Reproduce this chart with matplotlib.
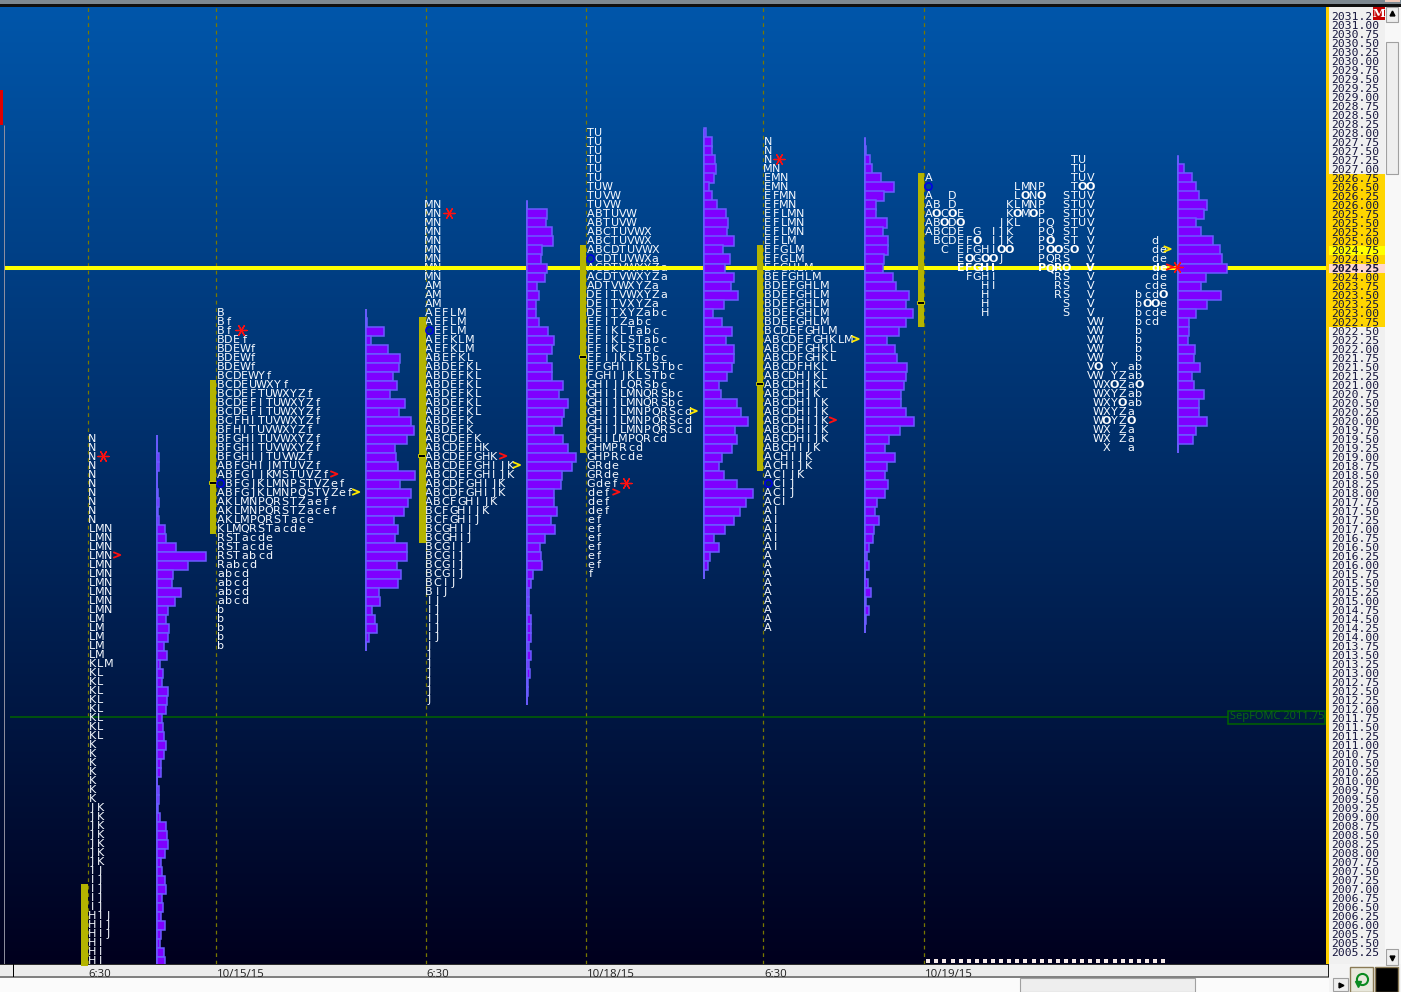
import numpy as np
import matplotlib
matplotlib.use("Agg")
import matplotlib.pyplot as plt
from matplotlib.patches import Rectangle
from matplotlib.path import Path

# ---------------- DATA ----------------
TICK_PRICES = [2031.25 - 0.25 * i for i in range(105)]
VALUE_AREA_PRICES = [2026.75, 2026.5, 2026.25, 2026.0, 2025.75, 2025.5, 2025.25, 2025.0, 2024.75,
                     2024.5, 2024.25, 2024.0, 2023.75, 2023.5, 2023.25, 2023.0, 2022.75]
LAST_PRICE = 2024.25
VPOC_PRICE = 2024.75
REF_PRICE = 2011.75
REF_LABEL = "SepFOMC 2011.75"
X_LABELS = ["6:30", "10/15/15", "6:30", "10/18/15", "6:30", "10/19/15"]

# '@' marks the blue open ring, 'O' a bold close mark.
S1_TOP = 2019.5
S1_ROWS = ["N"] * 10 + ["LMN"] * 10 + ["LM"] * 5 + ["KLM"] + ["KL"] * 8 + ["K"] * 7 + \
          ["JK"] * 7 + ["IJ"] * 5 + ["HIJ"] * 3 + ["HI"] * 3
S1_HIST = [0, 0, 2, 2, 0, 0, 1, 2, 1, 2, 8, 9, 19, 49, 31, 16, 15, 24, 18, 11, 9, 12, 11, 7, 10, 3, 6, 5, 11,
           10, 9, 5, 6, 7, 9, 7, 4, 4, 0, 2, 2, 1, 3, 9, 10, 11, 8, 4, 5, 8, 9, 5, 6, 4, 8, 4, 3, 7, 8]

S2_TOP = 2023.0
S2_ROWS = ["B", "Bf", "Bf", "BDEf", "BDEWf", "BDEWf", "BDEWf", "BCDEWYf", "BCDEUWXYf", "BCDEFTUWXYZf",
           "BCDEFITUWXYZf", "BCDEFITUWXYZf", "BCFHITUVWXYZf", "BFHITUVWXYZf", "BFGHITUVWXYZf",
           "BFGHITUVWXYZf", "BFGHIJTUVWZf", "ABFGHIJMTUVZf", "ABFGIJKMSTUVZf", "@BFGJKLMNPSTVZef",
           "ABFGJKLMNPQSTVZef", "AKLMNPQRSTZaef", "AKLMNPQRSTZacef", "AKLMPQRSTace", "KLMQRSTacde",
           "RSTacde", "RSTacde", "RSTabcd", "Rabcd", "abcd", "abcd", "abcd", "abcd", "b", "b", "b", "b", "b"]
S2_HIST = [0, 1, 18, 5, 22, 34, 33, 27, 31, 24, 39, 33, 45, 48, 41, 29, 30, 32, 49, 34, 45, 42, 38, 28, 32,
           29, 41, 41, 31, 35, 32, 13, 14, 6, 9, 11, 3, 0]

S3_TOP = 2026.0
S3_ROWS = ["MN"] * 9 + ["AM"] * 3 + ["AEFLM"] * 2 + ["@EFLM"] + ["AEFKLM"] * 2 + ["ABEFKL"] + ["ABDEFKL"] * 6 + \
          ["ABDEFK"] * 2 + ["ABCDEFK", "ABCDEFHK", "ABCDEFGHK", "ABCDEFGHIJK", "ABCDEFGHIJK", "ABCDFGHIJK",
                            "ABCDFGHIJK", "ABCFGHIJK", "BCFGHIJK", "BCFGHIJ", "BCGHIJ", "BCGHIJ"] + \
          ["BCGIJ"] * 4 + ["BCIJ", "BIJ"] + ["IJ"] * 5 + ["J"] * 7
S3_HIST = [0, 20, 19, 25, 26, 15, 14, 20, 18, 10, 12, 9, 9, 12, 21, 27, 25, 20, 25, 25, 36, 32, 41, 37, 35,
           27, 36, 41, 49, 45, 35, 34, 27, 27, 30, 24, 28, 18, 13, 14, 15, 6, 4, 2, 2, 2, 4, 4, 4, 2, 4, 2, 3,
           1, 1, 0]

S4_TOP = 2028.0
S4_ROWS = ["TU"] * 6 + ["TUW", "TUVW", "TUVW", "ABTUVW", "ABTUVW", "ABCTUVWX", "ABCTUVWX", "ABCDTUVWX",
                        "@CDTUVWXa", "ACDTVWXYZa", "ACDTVWXYZa", "ADTVWXYZa", "DEITVWXYZa", "DEITVXYZa",
                        "DEITXYZabc", "EFITZabc", "EFIKLTabc", "EFIKLSTabc", "EFIKLSTbc", "EFIJKLSTbc",
                        "EFGHIJKLSTbc", "FGHIJKLSTbc", "GHIJLQRSbc", "GHIJLMNQRSbc", "GHIJLMNQRSbc",
                        "GHIJLMNPQRScd", "GHIJLMNPQRScd", "GHIJLMNPQRScd", "GHILMPQRcd", "GHMPRcd", "GHPRcde",
                        "GRde", "GRde", "Gdef", "def", "def", "def"] + ["ef"] * 6 + ["f"]
S4_HIST = [2, 8, 8, 11, 12, 10, 5, 8, 13, 22, 24, 23, 30, 19, 26, 21, 30, 27, 34, 20, 9, 18, 28, 22, 30, 30,
           28, 23, 15, 17, 33, 37, 44, 31, 33, 28, 18, 15, 20, 33, 49, 42, 36, 30, 21, 10, 15, 6, 4, 0]

S5_TOP = 2027.75
S5_ROWS = ["N"] * 3 + ["MN", "EMN", "EMN", "EFMN", "EFMN", "EFLMN", "EFLMN", "EFLMN", "EFLM", "EFGLM", "EFGLM",
                       "EFGHLM", "BEFGHLM"] + ["BDEFGHLM"] * 5 + \
          ["BCDEFGHLM", "ABCDEFGHKLM", "ABCDFGHKL", "ABCDFGHKL", "ABCDFHKL", "ABCDHJKL", "ABCDHJKL", "ABCDHJK"] + \
          ["ABCDHIJK"] * 5 + ["ABCHIJK", "ACHIJK", "ACHIJK", "ACIJK", "@CIJ", "ACIJ", "ACI"] + ["AI"] * 5 + ["A"] * 9
S5_HIST = [0, 1, 5, 7, 16, 29, 19, 11, 11, 22, 18, 23, 23, 19, 18, 28, 31, 44, 41, 48, 41, 34, 22, 30, 32, 42,
           41, 39, 36, 36, 41, 49, 35, 24, 20, 30, 22, 20, 23, 20, 12, 10, 14, 9, 8, 4, 2, 4, 0, 3, 6, 1, 4, 1, 0]

S6_TOP = 2027.25
S6_ROWS = [
    "                  TU",
    "                  TU",
    "A                 TUV",
    "@          LMNP   TOO",
    "A  D       LONO  STUV",
    "AB D      KLMNP  STUV",
    "AOCOE     KOMOP  STUV",
    "ABODO    JKL  PQ STUV",
    "ABCDE G IJK   PQ ST V",
    " BCDEFO IJK   PO ST V       d",
    "  C EFGHIOO   POOSO V       de",
    "    EOGOOJ    PQRS  V       de",
    "    EFGHI     PQRO  V       de",
    "     FGHI       RS  V       de",
    "       HI       RS  V      cde",
    "       H        RS  V     bcdO",
    "       H         S  V     bOOe",
    "       H         S  V     bcde",
    "                    VW    bcd",
    "                    VW    b",
    "                    VW    b",
    "                    VW    b",
    "                    VW    b",
    "                    VO Y ab",
    "                    VW YZab",
    "                     WXOZaO",
    "                     WXYZab",
    "                     WXYOab",
    "                     WXYZa",
    "                     WOYZO",
    "                     WX Za",
    "                     WX Za",
    "                      X  a",
]
S6_HIST = [0, 6, 14, 18, 21, 29, 26, 18, 23, 35, 42, 44, 49, 28, 23, 43, 29, 18, 11, 11, 10, 17, 16, 22, 14, 16,
           26, 21, 21, 29, 18, 15, 0]

VA_HIGH = [2007.0, 2021.0, 2022.75, 2024.75, 2024.75, 2026.75]
VA_LOW = [2005.0, 2017.0, 2016.75, 2019.25, 2018.75, 2022.75]
POC = [None, 2018.25, 2019.0, 2021.75, 2021.0, 2023.25]

# (session, price, column offset)
RED_STARS = [(0, 2019.0, 1.3), (1, 2022.5, 2.5), (2, 2025.75, 2.5), (3, 2018.25, 4.4), (4, 2027.25, 1.4),
             (5, 2024.25, 30.7)]
RED_ARROWS = [(0, 2016.25, 3.05), (1, 2018.5, 14.0), (2, 2019.0, 9.1), (3, 2018.0, 3.15), (4, 2020.0, 8.0),
              (5, 2024.25, 29.8)]
YELLOW_ARROWS = [(1, 2018.0, 16.7), (2, 2018.75, 10.8), (3, 2020.25, 12.7), (4, 2022.25, 10.8), (5, 2024.75, 29.5)]
PERIOD_COUNT = 30

# ---------------- LAYOUT / STYLE ----------------
W, H = 1401, 992
AX_L, AX_R, AX_T, AX_B = 0, 1326, 7, 964
PX_PER_PRICE = 36.0
DASH_X = [87.7, 216.3, 425.6, 586.4, 763.2, 924.3]
HIST_X = [157.0, 366.0, 527.0, 703.6, 864.6, 1178.0]
TEXT_X = [88.0, 216.4, 425.0, 586.4, 763.7, 924.2]
TICK_X = [88, 217, 426, 587, 764, 925]
PITCH = 8.1
FS = 8.0
BASE_OFF = 3.05 / PX_PER_PRICE
TXT = "#f6faff"
MONO = "DejaVu Sans Mono"
LETTER = "DejaVu Sans"
SANS = "Open Sans"
ROWS = [S1_ROWS, S2_ROWS, S3_ROWS, S4_ROWS, S5_ROWS, S6_ROWS]
TOPS = [S1_TOP, S2_TOP, S3_TOP, S4_TOP, S5_TOP, S6_TOP]
HISTS = [S1_HIST, S2_HIST, S3_HIST, S4_HIST, S5_HIST, S6_HIST]

price_of = lambda y: 2031.25 - (y - 16) / PX_PER_PRICE

fig = plt.figure(figsize=(W / 100, H / 100), dpi=100, facecolor="#fbfbfb")

# chrome in pixel coordinates
ch = fig.add_axes([0, 0, 1, 1], zorder=0)
ch.set_xlim(0, W); ch.set_ylim(H, 0); ch.axis("off")
def box(x0, y0, x1, y1, fc, ec="none", lw=0, z=1):
    ch.add_patch(Rectangle((x0, y0), x1 - x0, y1 - y0, fc=fc, ec=ec, lw=lw, zorder=z))

box(0, 0, W, 4, "#7d8890")
box(0, 4, W, 7, "#101010")
box(1385, 0, 1400, 2, "#f0c8b8")
box(0, AX_B, 1329, 977, "#ececec")
box(0, AX_B - 0.5, 1329, AX_B + 1, "#303030", z=2)
box(0, 976, 1329, 977.5, "#808080", z=2)
box(13, AX_B, 14, 977, "#000000", z=2)
box(1329, 7, 1385, 964, "#f0f0f0")
box(1326, 7, 1328.5, 964, "#ffd000", z=3)
box(1328, 964, 1329, 977, "#202020", z=2)
box(1329, 964, 1401, 992, "#f4f4f4")
for p in VALUE_AREA_PRICES:
    y = 16 + (2031.25 - p) * PX_PER_PRICE
    col = "#ffd500"
    if p == VPOC_PRICE: col = "#ffff00"
    if p == LAST_PRICE: col = "#ffd8d0"
    box(1328.5, y - 4.5, 1385, y + 4.5, col)
# right scrollbar
box(1385, 7, 1401, 964, "#f8f8f8")
box(1385.5, 7, 1398, 22, "#eeeeee", "#a0a0a0", 0.8, 2)
box(1386, 42, 1398, 174, "#eeeeee", "#a0a0a0", 0.8, 2)
box(1385.5, 949, 1398, 965, "#eeeeee", "#a0a0a0", 0.8, 2)
ch.plot([1391.5], [13], marker="^", ms=3.5, color="black", zorder=3)
ch.plot([1391.5], [958], marker="v", ms=3.5, color="black", zorder=3)
# lower scrollbar and buttons
box(1020, 978, 1195, 991.5, "#eeeeee", "#a0a0a0", 0.8, 2)
box(1333, 978, 1347.5, 990.5, "#eeeeee", "#a0a0a0", 0.8, 2)
ch.plot([1340.5], [984.5], marker=">", ms=3.5, color="black", zorder=3)
box(1350, 966.5, 1373, 991.5, "#e8e8dc", "#8a7a55", 1, 2)
box(1375, 966.5, 1398, 991.5, "#000000", "#8a7a55", 1, 2)
ch.plot([1361.5], [979], marker="o", ms=8, mfc="none", mec="#0a8a20", mew=1.5, zorder=3)
ch.plot([1358], [984], marker="v", ms=4, color="#0a8a20", zorder=4)

# main price chart
ax = fig.add_axes([AX_L / W, 1 - AX_B / H, (AX_R - AX_L) / W, (AX_B - AX_T) / H], zorder=1)
ax.set_facecolor("none")
for s in ax.spines.values():
    s.set_visible(False)

grad = np.linspace(0, 1, 256)[:, None]
top_c, bot_c = np.array([0, 86, 170]) / 255, np.array([0, 0, 30]) / 255
img = (top_c[None, None, :] * (1 - grad[..., None]) + bot_c[None, None, :] * grad[..., None])
ax.imshow(img, aspect="auto", extent=(AX_L, AX_R, price_of(AX_B), price_of(AX_T)), origin="upper", zorder=0,
          interpolation="bilinear")
ax.set_xlim(AX_L, AX_R)
ax.set_ylim(price_of(AX_B), price_of(AX_T))
ax.add_patch(Rectangle((0, price_of(125)), 2.5, price_of(90) - price_of(125), fc="#e00000", ec="none", zorder=1))
ax.vlines(3.5, price_of(AX_B), price_of(125), color="#9090a0", lw=0.7, zorder=1)

ax.vlines(DASH_X, price_of(AX_B), price_of(AX_T), colors="#787800", lw=0.9, linestyles=(0, (3, 3)), zorder=1)
ax.hlines(REF_PRICE + 1 / PX_PER_PRICE, 10, 1228, colors="#006400", lw=1.1, zorder=1.5)
ax.hlines(LAST_PRICE, 5, AX_R, colors="#ffff00", lw=2.9, zorder=3)

ax.add_patch(Rectangle((1228, price_of(723.5)), 97, price_of(710.5) - price_of(723.5), fc="#001a40", ec="#006400",
                       lw=1.1, zorder=4))
ax.text(1230, price_of(717), REF_LABEL, color="#0b6a12", family=SANS, fontsize=8.0, va="center", ha="left", zorder=5)

chevron = Path([(-0.8, 0.65), (0.8, 0), (-0.8, -0.65)], [Path.MOVETO, Path.LINETO, Path.LINETO])

for i, (rows, top, hist) in enumerate(zip(ROWS, TOPS, HISTS)):
    prices = [top - 0.25 * j for j in range(len(rows))]
    for p, row in zip(prices, rows):
        on_line = i == 5 and p == LAST_PRICE
        for col, c in enumerate(row):
            x = TEXT_X[i] + PITCH * (col + 0.5)
            if c == " ":
                continue
            if c == "@":
                ax.plot(x, p + 1 / PX_PER_PRICE, marker="o", ms=5.2, mfc="none", mec="#0000e6", mew=1.1, zorder=7)
                continue
            bold = i == 5 and (c == "O" or on_line)
            ax.text(x, p - BASE_OFF, c, family=LETTER, fontsize=FS, color="white" if bold else TXT,
                    va="baseline", ha="center", zorder=6 if i == 5 else 2, weight="bold" if bold else "normal")
    # histogram
    ax.vlines(HIST_X[i], prices[-1] - 0.125, prices[0] + 0.125, colors="#6a5cff", lw=1.3, zorder=4)
    ax.barh(prices, hist, left=HIST_X[i], height=0.25, color="#7f00ff", edgecolor="#6a5cff", linewidth=1.1, zorder=4)
    # value area
    ax.add_patch(Rectangle((DASH_X[i] - 6.4, VA_LOW[i] - 0.125), 6.4, VA_HIGH[i] - VA_LOW[i] + 0.25, fc="#b4b400",
                           ec="none", zorder=3.5, clip_on=False))
    if POC[i] is not None:
        ax.add_patch(Rectangle((DASH_X[i] - 7.5, POC[i] - 0.01), 7, 3.0 / PX_PER_PRICE, fc="#000000", ec="#c8c800",
                               lw=0.7, zorder=3.6))

x_of = lambda s, col: TEXT_X[s] + PITCH * 0.5 + PITCH * col
ax.scatter([x_of(s, c) for s, _, c in RED_STARS], [p + 1 / PX_PER_PRICE for _, p, _ in RED_STARS], marker=(6, 2, 90),
           s=62, c="#ff1010", linewidths=0.95, zorder=8)
ax.scatter([x_of(s, c) for s, _, c in RED_ARROWS], [p + 1 / PX_PER_PRICE for _, p, _ in RED_ARROWS], marker=chevron,
           s=26, facecolors="none", edgecolors="#ff1010", linewidths=1.3, zorder=8)
ax.scatter([x_of(s, c) for s, _, c in YELLOW_ARROWS], [p + 1 / PX_PER_PRICE for _, p, _ in YELLOW_ARROWS],
           marker=chevron, s=26, facecolors="none", edgecolors="#ffe800", linewidths=1.3, zorder=8)
ax.scatter([x_of(5, c) for c in range(PERIOD_COUNT)], [price_of(961)] * PERIOD_COUNT, marker="s", s=5, c="#f4e8e8",
           linewidths=0, zorder=6)

# axes ticks through the library
ax.yaxis.tick_right()
ax.set_yticks(TICK_PRICES)
ax.set_yticklabels([f"{p:.2f}" for p in TICK_PRICES], family=MONO, fontsize=8.2, color="#14143c")
ax.tick_params(axis="y", length=0, pad=4.0)
for lab, p in zip(ax.get_yticklabels(), TICK_PRICES):
    if p == LAST_PRICE:
        lab.set_fontweight("bold")
ax.set_xticks(TICK_X)
ax.set_xticklabels(X_LABELS, family=SANS, fontsize=8.2, color="#202020", ha="left")
ax.tick_params(axis="x", length=0, pad=3.5)

# red badge above the price labels
top = fig.add_axes([0, 0, 1, 1], zorder=3)
top.set_xlim(0, W); top.set_ylim(H, 0); top.axis("off"); top.patch.set_alpha(0)
top.add_patch(Rectangle((1372.5, 7), 12, 13, fc="#c40000", ec="none"))
top.text(1378.5, 13.5, "M", color="white", family="DejaVu Serif", weight="bold", fontsize=8.2, ha="center", va="center")

fig.savefig("out.png", dpi=100, facecolor=fig.get_facecolor())
